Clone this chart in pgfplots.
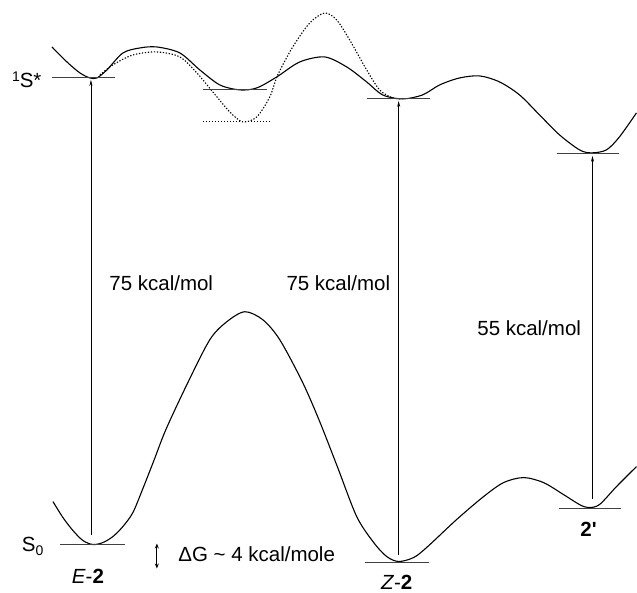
\documentclass[border=0pt]{standalone}
\usepackage{pgfplots}
\pgfplotsset{compat=1.18}
\usepackage{fontspec}
\setmainfont{Liberation Sans}
\usetikzlibrary{arrows.meta}
\newcommand\bigf{\fontsize{20.5}{24}\selectfont}
\newcommand\smallf{\fontsize{14}{16}\selectfont}
\begin{document}
\begin{tikzpicture}
\begin{axis}[
  scale only axis, width=637pt, height=591pt,
  xmin=0, xmax=637, ymin=0, ymax=591, y dir=reverse,
  axis lines=none, clip=false,
]
\path (rel axis cs:0,0) rectangle (rel axis cs:1,1);
% upper (1S*) surface
\addplot[smooth, line width=1.1pt, black] coordinates {
(52,47) (67,62) (80,73) (90,78) (97,78) (107,70) (123,53) (140,48) (157,47)
(180,53) (200,70) (220,85) (240,90) (257,88) (277,77) (300,62) (325,57)
(347,67) (367,82) (383,95) (403,99) (423,95) (440,85) (460,78) (480,76)
(500,82) (520,95) (540,115) (560,135) (580,150) (592,153) (607,150) (620,137) (637,113)
};
% dotted alternative surface
\addplot[smooth, line width=1.1pt, black, dash pattern=on 1.3pt off 1.7pt] coordinates {
(100,75) (113,65) (133,55) (157,52) (180,57) (197,73) (213,92) (230,112) (243,122)
(257,117) (270,97) (278,75) (293,47) (310,23) (325,13) (337,20) (350,40)
(367,70) (380,90) (393,98) (403,99)
};
% ground state surface
\addplot[smooth, line width=1.1pt, black] coordinates {
(53,502) (63,518) (73,531) (83,541) (93,545) (103,543) (113,537) (123,527) (133,513)
(143,489) (154,461) (166,430) (187,385) (210,340) (227,322) (245,312) (263,320)
(280,340) (303,383) (320,422) (338,468) (357,517) (374,543) (387,557) (399,562)
(414,558) (427,548) (457,520) (484,497) (504,483) (524,478) (544,483) (564,495)
(580,505) (589,508) (600,505) (617,487) (637,467)
};
% level lines
\addplot[line width=0.9pt, black!75] coordinates {(52,78) (115,78)};
\addplot[line width=0.9pt, black!75] coordinates {(203,90) (267,90)};
\addplot[line width=0.9pt, black!75] coordinates {(367,99) (430,99)};
\addplot[line width=0.9pt, black!75] coordinates {(557,154) (620,154)};
\addplot[line width=0.9pt, black!75] coordinates {(60,545) (125,545)};
\addplot[line width=0.9pt, black!75] coordinates {(365,563) (429,563)};
\addplot[line width=0.9pt, black!75] coordinates {(559,509) (622,509)};
\addplot[line width=0.9pt, black, dash pattern=on 1.3pt off 1.7pt] coordinates {(203,122) (270,122)};
% excitation arrows
\addplot[line width=0.6pt, -{Stealth[length=6pt,width=3pt]}] coordinates {(91,535) (91,80)};
\addplot[line width=0.6pt, -{Stealth[length=6pt,width=3pt]}] coordinates {(399,555) (399,101)};
\addplot[line width=0.6pt, -{Stealth[length=6pt,width=3pt]}] coordinates {(593,499) (593,156)};
% Delta G double arrow
\addplot[line width=0.8pt, {Stealth[length=5pt,width=4pt]}-{Stealth[length=5pt,width=4pt]}] coordinates {(157,544) (157,569)};
% labels
\node[anchor=west, font=\bigf] at (axis cs:106,283) {75 kcal/mol};
\node[anchor=east, font=\bigf] at (axis cs:394,283) {75 kcal/mol};
\node[anchor=east, font=\bigf] at (axis cs:585,328) {55 kcal/mol};
\node[anchor=east, font=\bigf] at (axis cs:45,80) {\raisebox{0.55ex}{\smallf 1}S*};
\node[anchor=east, font=\bigf] at (axis cs:47,547) {S\raisebox{-0.3ex}{\smallf 0}};
\node[font=\bigf] at (axis cs:88,577) {\textit{E}-\textbf{2}};
\node[font=\bigf] at (axis cs:397,583) {\textit{Z}-\textbf{2}};
\node[font=\bigf] at (axis cs:589,530) {\textbf{2\textquotesingle}};
\node[anchor=west, font=\bigf] at (axis cs:175,555) {ΔG \textasciitilde{} 4 kcal/mole};
\end{axis}
\end{tikzpicture}
\end{document}
